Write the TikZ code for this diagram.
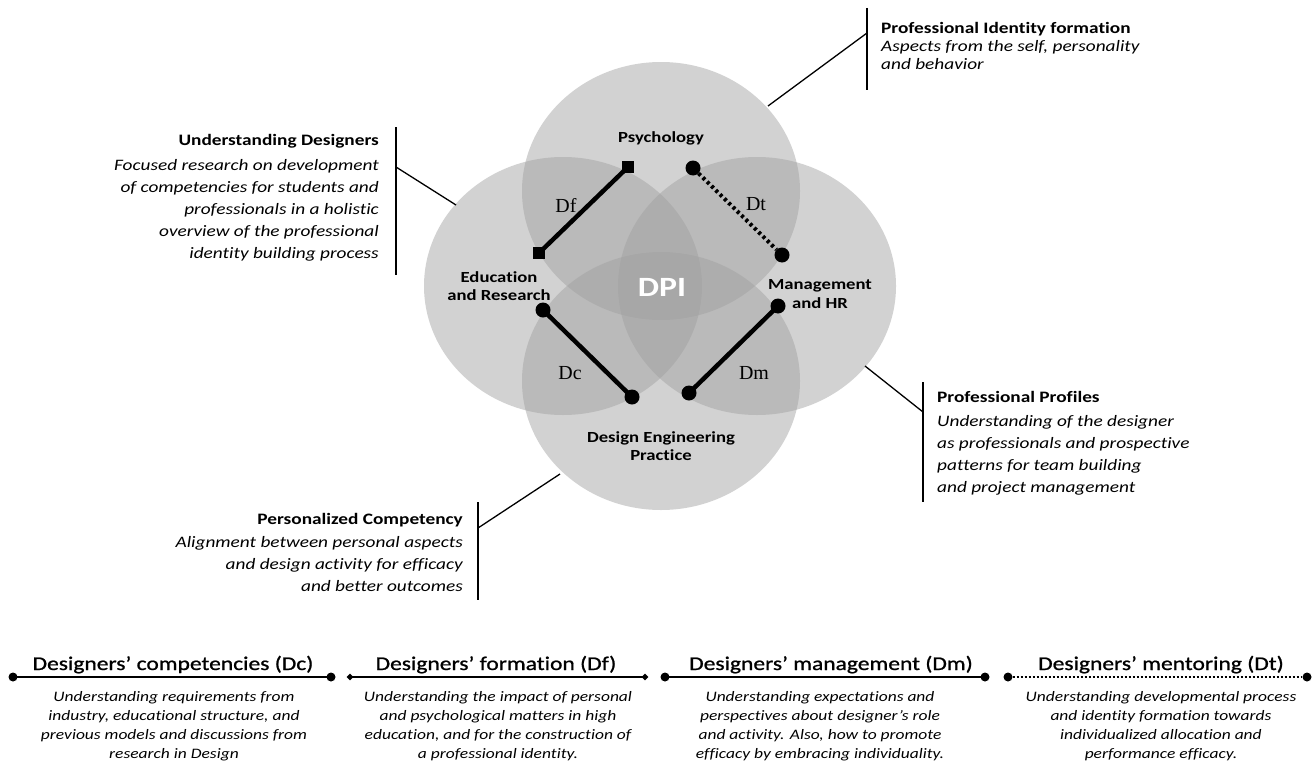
\documentclass[tikz,border=0pt]{standalone}
\usepackage{fontspec}
\setmainfont{Carlito}[FakeStretch=1.21, Ligatures=NoCommon]
\newfontfamily\legfont{Carlito}[FakeStretch=1.21, FakeBold=1, Ligatures=NoCommon]
\newfontfamily\dfont{Liberation Serif}
\usetikzlibrary{shapes.geometric}
\definecolor{venngray}{RGB}{160,160,160}
\begin{document}
\begin{tikzpicture}[x=1bp,y=-1bp,
  venn/.style={fill=venngray, fill opacity=0.48},
  reg/.style={font=\fontsize{15.5}{18.5}\selectfont\bfseries, align=center, inner sep=0},
  dlab/.style={font=\dfont\fontsize{20}{22}\selectfont, inner sep=0},
  bigdot/.style={circle, fill=black, minimum size=15bp, inner sep=0},
  bigsq/.style={rectangle, fill=black, minimum size=12bp, inner sep=0},
  seg/.style={line width=4.5bp},
  dotseg/.style={line width=4bp, dash pattern=on 3bp off 3bp},
  callhead/.style={font=\fontsize{16}{18}\selectfont\bfseries, inner sep=0},
  callbody/.style={font=\fontsize{16}{22.2}\selectfont\itshape, inner sep=0},
  callline/.style={line width=1.3bp},
  legtitle/.style={font=\legfont\fontsize{19.5}{22}\selectfont, inner sep=0, anchor=base},
  legdesc/.style={font=\fontsize{14.5}{19.2}\selectfont\itshape, align=center, inner sep=0, anchor=north},
  legline/.style={line width=2.5bp},
  legdot/.style={circle, fill=black, minimum size=9bp, inner sep=0},
  legdia/.style={diamond, fill=black, minimum size=7bp, inner sep=0},
]
\useasboundingbox (0,0) rectangle (1314,761);

% Venn ellipses
\fill[venn] (661,191) ellipse [x radius=139, y radius=129];
\fill[venn] (563,286) ellipse [x radius=139, y radius=129];
\fill[venn] (757,286) ellipse [x radius=139, y radius=129];
\fill[venn] (661,381) ellipse [x radius=139, y radius=129];

% region labels
\node[reg] (psy) at (661,138) {Psychology};
\node[reg] (edu) at (499,286) {Education\\and Research};
\node[reg] (man) at (820,294) {Management\\and HR};
\node[reg] (dep) at (661,446) {Design Engineering\\Practice};
\node[font=\fontsize{28}{30}\selectfont\bfseries, text=white, inner sep=0] (dpi) at (662,287) {DPI};

% segments
\node[bigsq] (df1) at (628,167) {};
\node[bigsq] (df2) at (539,253) {};
\draw[seg] (df1.center) -- (df2.center);
\node[bigdot] (dt1) at (693,168) {};
\node[bigdot] (dt2) at (782,255) {};
\draw[dotseg] (dt1) -- (dt2);
\node[bigdot] (dc1) at (543,310) {};
\node[bigdot] (dc2) at (632,397) {};
\draw[seg] (dc1.center) -- (dc2.center);
\node[bigdot] (dm1) at (778,306) {};
\node[bigdot] (dm2) at (689,393) {};
\draw[seg] (dm1.center) -- (dm2.center);

\node[dlab] (ldf) at (566,206) {Df};
\node[dlab] (ldt) at (756,204) {Dt};
\node[dlab] (ldc) at (570,373) {Dc};
\node[dlab] (ldm) at (754,373) {Dm};

% callout top right
\coordinate (trb1) at (867,8);
\coordinate (trb2) at (867,90);
\coordinate (trj) at (867,33);
\coordinate (tre) at (768,106);
\draw[callline] (trb1) -- (trb2);
\draw[callline] (trj) -- (tre);
\node[callhead, anchor=base west] (trh) at (881,34) {Professional Identity formation};
\node[font=\fontsize{16}{17.5}\selectfont\itshape, inner sep=0, anchor=base west] (trt) at (881,51.5) {Aspects from the self, personality};
\node[font=\fontsize{16}{17.5}\selectfont\itshape, inner sep=0, anchor=base west] (trt2) at (881,69) {and behavior};

% callout top left
\coordinate (tlb1) at (396,127);
\coordinate (tlb2) at (396,275);
\coordinate (tlj) at (396,167);
\coordinate (tle) at (456,205);
\draw[callline] (tlb1) -- (tlb2);
\draw[callline] (tlj) -- (tle);
\node[callhead, anchor=base east] (tlh) at (379,145) {Understanding Designers};
\node[callbody, align=right, anchor=north east] (tlt) at (379,159) {Focused research on development\\of competencies for students and\\professionals in a holistic\\overview of the professional\\identity building process};

% callout bottom right
\coordinate (brb1) at (923,382);
\coordinate (brb2) at (923,502);
\coordinate (brj) at (923,412);
\coordinate (bre) at (865,366);
\draw[callline] (brb1) -- (brb2);
\draw[callline] (brj) -- (bre);
\node[callhead, anchor=base west] (brh) at (937,402) {Professional Profiles};
\node[callbody, align=left, anchor=north west] (brt) at (937,415) {Understanding of the designer\\as professionals and prospective\\patterns for team building\\and project management};

% callout bottom left
\coordinate (blb1) at (478,502);
\coordinate (blb2) at (478,600);
\coordinate (blj) at (478,528);
\coordinate (ble) at (560,474);
\draw[callline] (blb1) -- (blb2);
\draw[callline] (blj) -- (ble);
\node[callhead, anchor=base east] (blh) at (463,524) {Personalized Competency};
\node[callbody, align=right, anchor=north east] (blt) at (463,536) {Alignment between personal aspects\\and design activity for efficacy\\and better outcomes};

% legend
\node[legdot] (lc1) at (13,677) {};
\node[legdot] (lc2) at (331,677) {};
\draw[legline] (lc1.center) -- (lc2.center);
\node[legtitle] (tc) at (173,670) {Designers’ competencies (Dc)};
\node[legdesc] (dcd) at (174,691) {Understanding requirements from\\industry, educational structure, and\\previous models and discussions from\\research in Design};

\node[legdia] (lf1) at (350,677) {};
\node[legdia] (lf2) at (645,677) {};
\draw[legline] (lf1.center) -- (lf2.center);
\node[legtitle] (tf) at (496,670) {Designers’ formation (Df)};
\node[legdesc] (dfd) at (498,691) {Understanding the impact of personal\\and psychological matters in high\\education, and for the construction of\\a professional identity.};

\node[legdot] (lm1) at (665,677) {};
\node[legdot] (lm2) at (985,677) {};
\draw[legline] (lm1.center) -- (lm2.center);
\node[legtitle] (tm) at (831,670) {Designers’ management (Dm)};
\node[legdesc] (dmd) at (820,691) {Understanding expectations and\\perspectives about designer’s role\\and activity. Also, how to promote\\efficacy by embracing individuality.};

\node[legdot] (lt1) at (1008,677) {};
\node[legdot] (lt2) at (1307,677) {};
\draw[line width=2.5bp, dash pattern=on 2bp off 2bp] (lt1) -- (lt2);
\node[legtitle] (tt) at (1161,670) {Designers’ mentoring (Dt)};
\node[legdesc] (dtd) at (1161,691) {Understanding developmental process\\and identity formation towards\\individualized allocation and\\performance efficacy.};
\end{tikzpicture}
\end{document}
